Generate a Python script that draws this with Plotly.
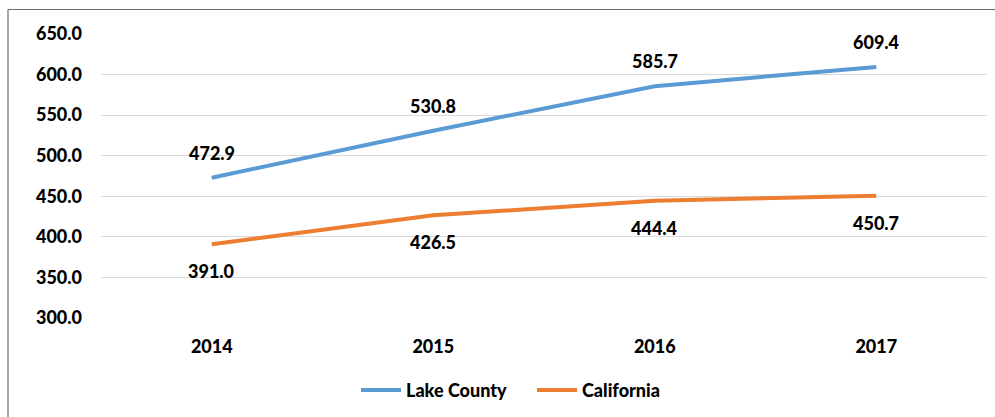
import plotly.graph_objects as go

years = ["2014", "2015", "2016", "2017"]
lake_county = [472.9, 530.8, 585.7, 609.4]
california = [391.0, 426.5, 444.4, 450.7]
y_ticks = [300, 350, 400, 450, 500, 550, 600, 650]

FONT = "Lato"
FS = 18
WT = 900
BLUE = "#5B9BD5"
ORANGE = "#ED7D31"

fig = go.Figure()
fig.add_trace(go.Scatter(x=years, y=lake_county, mode="lines", name="Lake County",
                         line=dict(color=BLUE, width=4)))
fig.add_trace(go.Scatter(x=years, y=california, mode="lines", name="California",
                         line=dict(color=ORANGE, width=4)))

# category axis: annotation x given as category index
for i, v in enumerate(lake_county):
    fig.add_annotation(x=i, y=v, xref="x", yref="y", text=f"{v:.1f}",
                       showarrow=False, yshift=25,
                       font=dict(family=FONT, size=FS, color="#000000", weight=WT))
for i, v in enumerate(california):
    fig.add_annotation(x=i, y=v, xref="x", yref="y", text=f"{v:.1f}",
                       showarrow=False, yshift=-27,
                       font=dict(family=FONT, size=FS, color="#000000", weight=WT))

L, R, T, B = 101, 8, 34, 99
W, H = 995, 417
pw = W - L - R
ph = H - T - B
# chart-area border (left and top edges visible)
bx = (8 - L) / pw
by = 1 + (T - 9.5) / ph
fig.add_shape(type="line", xref="paper", yref="paper", x0=bx, x1=bx, y0=by, y1=-1,
              line=dict(color="#6b6b6b", width=1.2))
fig.add_shape(type="line", xref="paper", yref="paper", x0=bx, x1=1.2, y0=by, y1=by,
              line=dict(color="#6b6b6b", width=1.2))

fig.update_layout(
    width=W, height=H,
    margin=dict(l=L, r=R, t=T, b=B, autoexpand=False),
    paper_bgcolor="white", plot_bgcolor="white",
    font=dict(family=FONT, size=FS, color="#000000", weight=WT),
    showlegend=True,
    legend=dict(orientation="h", x=(356 - L) / pw, xanchor="left", y=-0.255, yanchor="middle",
                font=dict(family=FONT, size=FS, color="#000000", weight=WT),
                itemwidth=40, entrywidth=121, entrywidthmode="pixels"),
    xaxis=dict(type="category", range=[-0.5, 3.5], showgrid=False, zeroline=False,
               showline=False, ticks="",
               tickfont=dict(family=FONT, size=FS, weight=WT),
               ticklabelstandoff=16),
    yaxis=dict(range=[300, 650], tickvals=y_ticks, tickformat=".1f",
               showgrid=True, gridcolor="#D9D9D9", gridwidth=1.3, zeroline=False,
               showline=False, ticks="",
               tickfont=dict(family=FONT, size=FS, weight=WT),
               ticklabelstandoff=18),
)

fig.write_html("out.html", config={"displayModeBar": False},
               post_script="document.body.style.margin='0';document.body.style.padding='0';")
